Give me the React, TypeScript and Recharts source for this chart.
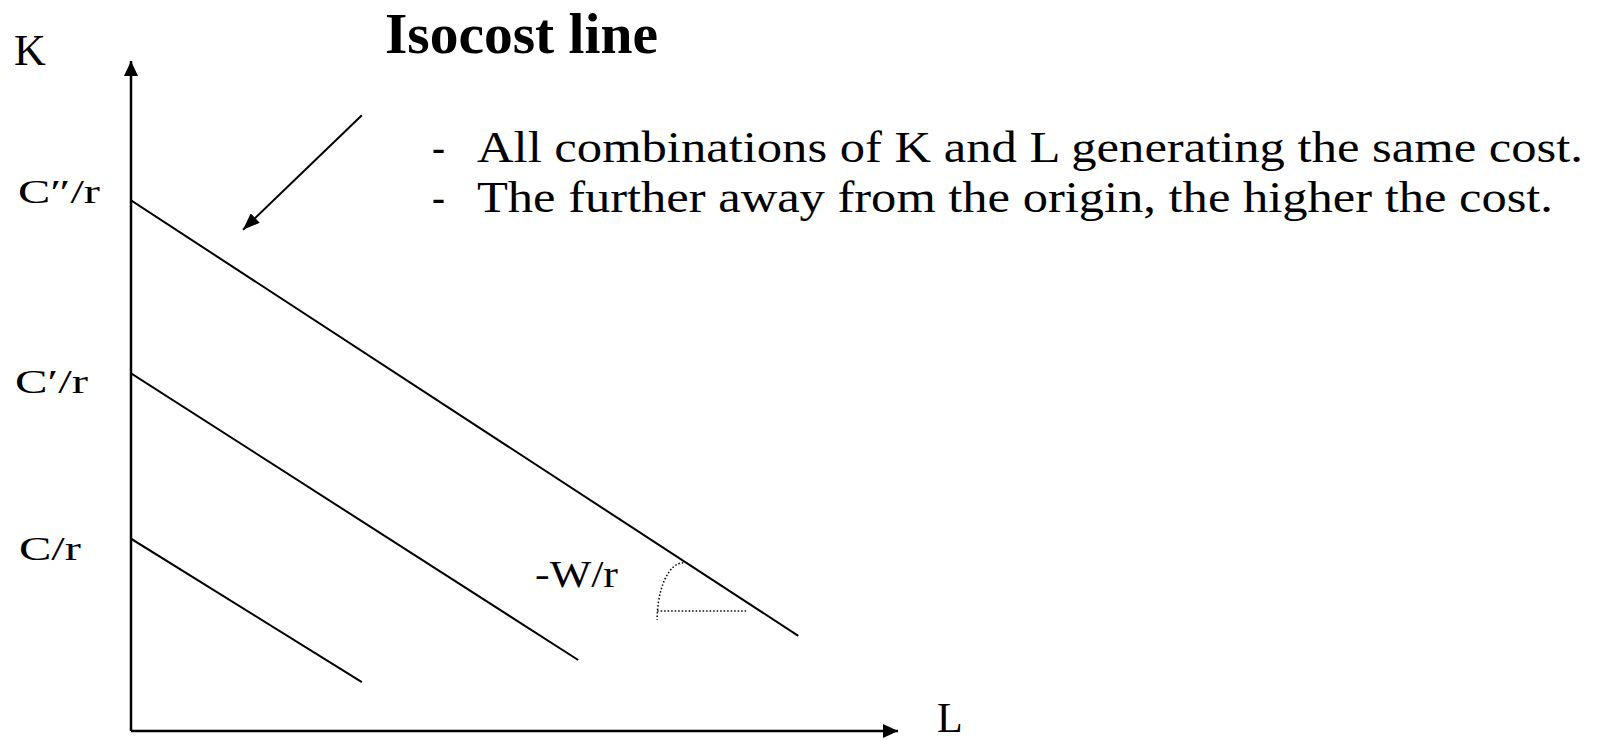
import React from 'react';
import { LineChart, Line, XAxis, YAxis, ReferenceLine } from 'recharts';

const WIDTH = 1605;
const HEIGHT = 741;

// Isocost lines, from the K intercept (C/r) down towards the L axis
const lowCost = [{ l: 0, k: 28.7 }, { l: 30.1, k: 7.3 }];
const midCost = [{ l: 0, k: 53.4 }, { l: 58.3, k: 10.6 }];
const highCost = [{ l: 0, k: 79.2 }, { l: 87.0, k: 14.2 }];

const interceptTicks = [28.7, 53.4, 79.2];
const interceptLabels = ['C/r', 'C′/r', 'C″/r'];

// Pointer from the title text to the outer isocost line
const pointerLine = [{ l: 30.1, k: 91.9 }, { l: 14.6, k: 74.8 }];
// Slope marker (-W/r) on the outer line
const slopeBase = [{ l: 68.6, k: 17.9 }, { l: 80.3, k: 17.9 }];
const slopeArc = [{ l: 72.0, k: 25.1 }, { l: 68.6, k: 16.6 }];

const bullets = [
  'All combinations of K and L generating the same cost.',
  'The further away from the origin, the higher the cost.',
];

// label layout for the y ticks (left edge, baseline shift, width)
const TICK_LEFT = [19, 15, 18];
const TICK_DY = [21, 20, 3];
const TICK_WIDTH = [62, 73, 82];
const BULLET_WIDTH = [1106, 1076];

const serif = '"Liberation Serif", "Times New Roman", serif';

const InterceptTick = (props: any) => {
  const { y, index } = props;
  return (
    <text
      x={TICK_LEFT[index]}
      y={y + TICK_DY[index]}
      fontFamily={serif}
      fontSize={33}
      fill="#000"
      textLength={TICK_WIDTH[index]}
      lengthAdjust="spacingAndGlyphs"
    >
      {interceptLabels[index]}
    </text>
  );
};

const PointerShape = (p: any) => (
  <line x1={p.x1} y1={p.y1} x2={p.x2} y2={p.y2} stroke="#000" strokeWidth={2} markerEnd="url(#pointerHead)" />
);

const DottedShape = (p: any) => (
  <line x1={p.x1} y1={p.y1} x2={p.x2} y2={p.y2} stroke="#000" strokeWidth={1.5} strokeDasharray="1.5 2" />
);

const ArcShape = (p: any) => {
  const rx = Math.abs(p.x2 - p.x1);
  const ry = Math.abs(p.y2 - p.y1);
  return (
    <path
      d={`M${p.x1},${p.y1} A${rx},${ry} 0 0 0 ${p.x2},${p.y2}`}
      fill="none"
      stroke="#000"
      strokeWidth={1.5}
      strokeDasharray="1.5 2"
    />
  );
};

export default function App() {
  return (
    <div style={{ position: 'absolute', left: 0, top: 0, width: WIDTH, height: HEIGHT, background: '#fff' }}>
      <svg width={0} height={0} style={{ position: 'absolute' }}>
        <defs>
          <marker
            id="axisHead"
            viewBox="0 0 15 14"
            refX={15}
            refY={7}
            markerWidth={15}
            markerHeight={14}
            markerUnits="userSpaceOnUse"
            orient="auto-start-reverse"
          >
            <path d="M0,0 L15,7 L0,14 Z" fill="#000" />
          </marker>
          <marker
            id="pointerHead"
            viewBox="0 0 17 13"
            refX={17}
            refY={6.5}
            markerWidth={17}
            markerHeight={13}
            markerUnits="userSpaceOnUse"
            orient="auto"
          >
            <path d="M0,0 L17,6.5 L0,13 Z" fill="#000" />
          </marker>
        </defs>
      </svg>

      <LineChart
        width={WIDTH}
        height={HEIGHT}
        margin={{ top: 61, right: 707, bottom: 0, left: 0 }}
        style={{ position: 'absolute', left: 0, top: 0 }}
      >
        <XAxis
          type="number"
          dataKey="l"
          domain={[0, 100]}
          allowDataOverflow
          height={10}
          tick={false}
          tickLine={false}
          axisLine={{ stroke: '#000', strokeWidth: 2.5, markerEnd: 'url(#axisHead)' }}
        />
        <YAxis
          type="number"
          dataKey="k"
          domain={[0, 100]}
          allowDataOverflow
          width={131}
          ticks={interceptTicks}
          interval={0}
          tick={<InterceptTick />}
          tickLine={false}
          axisLine={{ stroke: '#000', strokeWidth: 2.5, markerStart: 'url(#axisHead)' }}
        />
        <Line data={lowCost} dataKey="k" stroke="#000" strokeWidth={2} dot={false} isAnimationActive={false} />
        <Line data={midCost} dataKey="k" stroke="#000" strokeWidth={2} dot={false} isAnimationActive={false} />
        <Line data={highCost} dataKey="k" stroke="#000" strokeWidth={2} dot={false} isAnimationActive={false} />
        <ReferenceLine
          segment={[{ x: pointerLine[0].l, y: pointerLine[0].k }, { x: pointerLine[1].l, y: pointerLine[1].k }]}
          ifOverflow="visible"
          shape={PointerShape}
        />
        <ReferenceLine
          segment={[{ x: slopeBase[0].l, y: slopeBase[0].k }, { x: slopeBase[1].l, y: slopeBase[1].k }]}
          ifOverflow="visible"
          shape={DottedShape}
        />
        <ReferenceLine
          segment={[{ x: slopeArc[0].l, y: slopeArc[0].k }, { x: slopeArc[1].l, y: slopeArc[1].k }]}
          ifOverflow="visible"
          shape={ArcShape}
        />
      </LineChart>

      <svg
        width={WIDTH}
        height={HEIGHT}
        style={{ position: 'absolute', left: 0, top: 0, pointerEvents: 'none' }}
        fontFamily={serif}
        fill="#000"
      >
        <text x={385} y={53} fontSize={57} fontWeight="bold" textLength={273} lengthAdjust="spacingAndGlyphs">
          Isocost line
        </text>
        {/* both bullet lines sit in one text block */}
        <text fontSize={45}>
          {bullets.map((b, i) => (
            <React.Fragment key={i}>
              <tspan x={432} y={162 + i * 50} textLength={13} lengthAdjust="spacingAndGlyphs">-</tspan>
              <tspan x={477} y={162 + i * 50} textLength={BULLET_WIDTH[i]} lengthAdjust="spacingAndGlyphs">
                {b}
              </tspan>
            </React.Fragment>
          ))}
        </text>
        <text x={14} y={65} fontSize={44}>K</text>
        <text x={937} y={732} fontSize={42}>L</text>
        <text x={535} y={587} fontSize={38} textLength={83} lengthAdjust="spacingAndGlyphs">-W/r</text>
      </svg>
    </div>
  );
}
